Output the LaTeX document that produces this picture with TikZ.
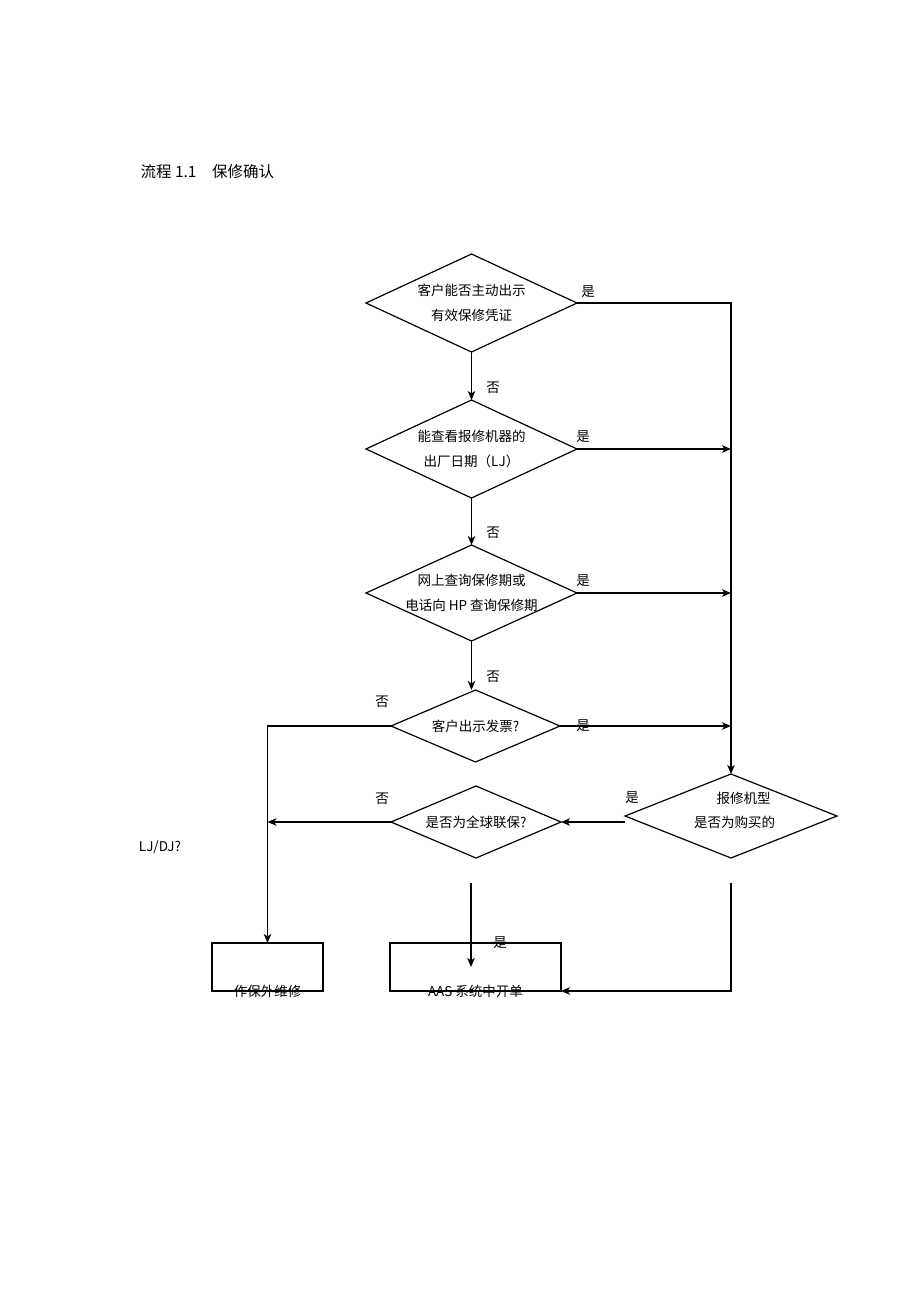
\documentclass[tikz,border=0pt]{standalone}
\usepackage{fontspec}
\setmainfont{Liberation Serif}
\newfontfamily\cjk{Noto Sans CJK SC}
\usepackage{tikz}
\usetikzlibrary{arrows.meta}
\usetikzlibrary{shapes.geometric}
\tikzset{decision/.style = {draw, diamond, shape aspect=2.2, inner sep=0pt, outer sep=0pt, align=center}}
\tikzset{endbox/.style = {draw, rectangle, inner sep=0pt, outer sep=0pt}}
\tikzset{flowtext/.style = {font=\cjk\fontsize{13.5}{25}\selectfont, align=center}}
\tikzset{yesno/.style = {font=\cjk\fontsize{13.5}{16}\selectfont, inner sep=0pt}}

\begin{document}
\begin{tikzpicture}[x=1pt, y=-1pt, line width=1.2pt, >={Stealth[length=9pt, width=7.5pt, inset=2.5pt]}]
\useasboundingbox (0,0) rectangle (920,1302);
\node[anchor=west, inner sep=0pt, font=\cjk\fontsize{15.5}{18}\selectfont] (title) at (140,172) {流程 1.1\quad 保修确认};

% decisions
\node[decision, flowtext, minimum width=211, minimum height=98] (d1) at (471.5,303) {客户能否主动出示\\有效保修凭证};
\node[decision, flowtext, minimum width=211, minimum height=98] (d2) at (471.5,449) {能查看报修机器的\\出厂日期（LJ）};
\node[decision, minimum width=211, minimum height=96] (d3) at (471.5,593) {};
\node[flowtext] (t3) at (d3) {网上查询保修期或\\电话向 HP 查询保修期};
\node[decision, flowtext, minimum width=169, minimum height=72] (d4) at (475.5,726) {客户出示发票?};
\node[decision, minimum width=212, minimum height=84] (d5) at (731,816) {};
\node[flowtext] (t5a) at (743.5,798) {报修机型};
\node[flowtext] (t5b) at (734.5,822) {是否为购买的};
\node[decision, flowtext, minimum width=170, minimum height=72] (d6) at (476,822) {是否为全球联保?};

% end boxes
\node[endbox, minimum width=111, minimum height=48] (b1) at (267.5,967) {};
\node[endbox, minimum width=171, minimum height=48] (b2) at (475.5,967) {};
\node[flowtext] (t6) at (b1.south) {作保外维修};
\node[flowtext] (t7) at (b2.south) {AAS 系统中开单};
\node[flowtext] (ljdj) at (160,847) {LJ/DJ?};

% connectors
\draw[->] (d1.south) -- (d2.north);
\draw[->] (d2.south) -- (d3.north);
\draw[->] (d3.south) -- (d3.south |- d4.north);
\draw[->] (d1.east) -| (d5.north);
\draw[->] (d2.east) -- (d2.east -| d5.north);
\draw[->] (d3.east) -- (d3.east -| d5.north);
\draw[->] (d4.east) -- (d4.east -| d5.north);
\draw[->] (d4.west) -| (b1.north);
\draw[->] (d5.west |- d6.east) -- (d6.east);
\draw[->] (d6.west) -- (d6.west -| b1.north);
\coordinate (f1) at (471,883);
\coordinate (f2) at (471,967);
\draw[->] (f1) -- (f2);
\coordinate (f3) at (731,883);
\draw[->] (f3) |- (b2.south east);

% yes / no labels
\node[yesno] (y1) at (588,292) {是};
\node[yesno] (n1) at (493,388) {否};
\node[yesno] (y2) at (583,437) {是};
\node[yesno] (n2) at (493,533) {否};
\node[yesno] (y3) at (583,581) {是};
\node[yesno] (n3) at (493,677) {否};
\node[yesno] (y4) at (583,726) {是};
\node[yesno] (n4) at (382,702) {否};
\node[yesno] (y5) at (632,798) {是};
\node[yesno] (n5) at (382,799) {否};
\node[yesno] (y6) at (500,943) {是};
\end{tikzpicture}
\end{document}
